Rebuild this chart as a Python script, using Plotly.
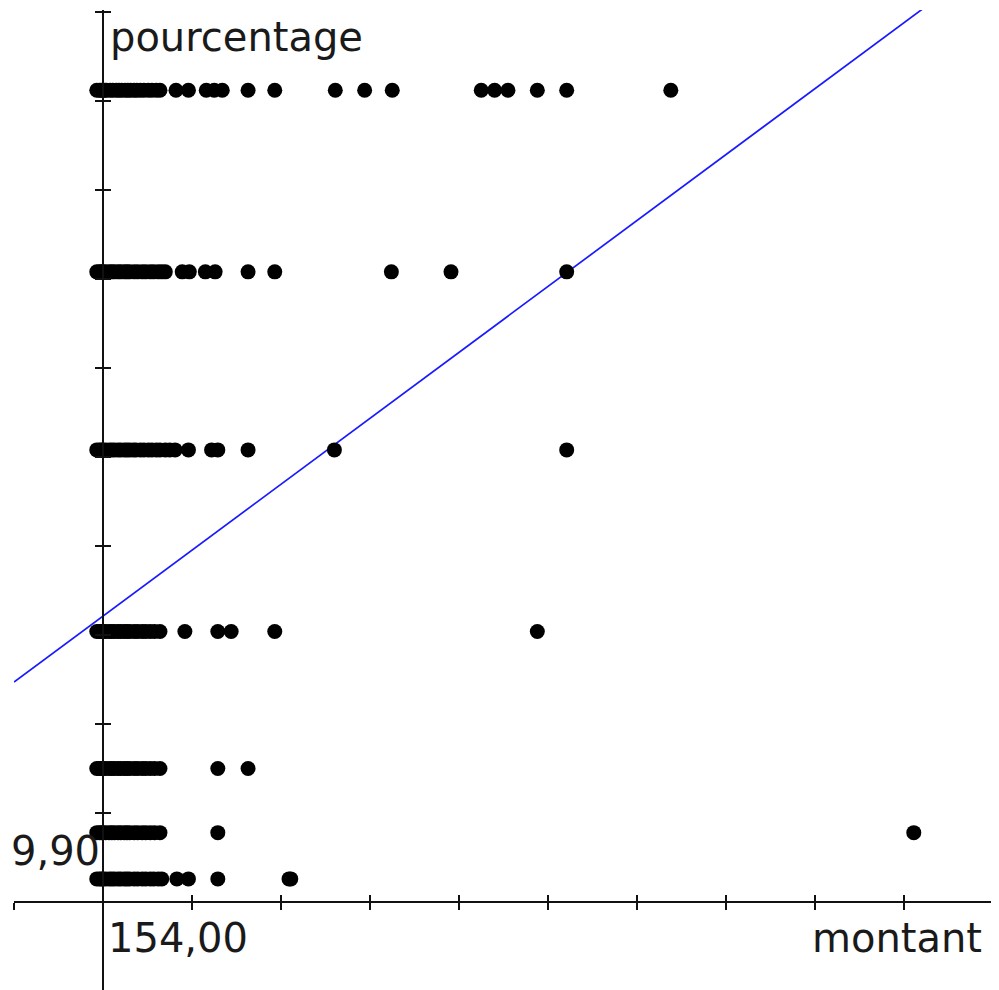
import plotly.graph_objects as go

# --- data (montant values per pourcentage level) ---
pct_levels = [14.46, 13.44, 12.44, 11.42, 10.65, 10.29, 10.03]

montant_1446 = [147, 150, 152, 154, 156, 158, 162, 165, 169, 172, 175, 179, 182, 185, 189, 192,
                196, 200, 205, 209, 214, 218, 236, 250, 270, 279, 288, 317, 347, 415, 448, 479,
                579, 594, 609, 642, 675, 792]
montant_1344 = [147, 150, 152, 154, 157, 161, 164, 167, 171, 174, 178, 181, 184, 189, 193, 198,
                202, 207, 211, 216, 220, 224, 243, 251, 269, 280, 317, 347, 478, 545, 675]
montant_1244 = [147, 150, 152, 154, 157, 161, 164, 167, 171, 174, 178, 181, 184, 188, 191, 196,
                200, 205, 209, 214, 218, 224, 229, 235, 250, 276, 283, 317, 414, 675]
montant_1142 = [147, 150, 152, 154, 157, 161, 164, 167, 171, 174, 178, 181, 184, 189, 193, 198,
                202, 207, 212, 218, 246, 283, 298, 347, 642]
montant_1065 = [147, 150, 152, 154, 157, 161, 164, 167, 171, 174, 178, 181, 184, 189, 193, 198,
                202, 207, 212, 218, 283, 317]
montant_1029 = [147, 150, 152, 154, 157, 161, 164, 167, 171, 174, 178, 181, 184, 189, 193, 198,
                202, 207, 212, 218, 283, 1065]
montant_1003 = [147, 150, 152, 154, 157, 161, 164, 167, 171, 174, 178, 181, 184, 189, 193, 198,
                202, 207, 211, 216, 220, 237, 250, 283, 363, 365]

rows = [montant_1446, montant_1344, montant_1244, montant_1142,
        montant_1065, montant_1029, montant_1003]

# regression line (two points)
reg_montant = [54, 1154]
reg_pourcentage = [11.136, 15.21]

# axis settings
x_origin = 154.0
y_origin = 9.90
x_step = 100
y_step = 0.5
x_range = [54.0, 1154.0]
y_range = [9.406, 14.911]

xs, ys = [], []
for lvl, row in zip(pct_levels, rows):
    xs.extend(row)
    ys.extend([lvl] * len(row))

fig = go.Figure()
fig.add_trace(go.Scatter(x=reg_montant, y=reg_pourcentage, mode="lines",
                         line=dict(color="#1a1aff", width=1.7), hoverinfo="skip"))
fig.add_trace(go.Scatter(x=xs, y=ys, mode="markers",
                         marker=dict(color="black", size=15, line=dict(width=0))))

OFF = 8  # page body margin
W, H = 999 - OFF, 990 - OFF
ml, mt = 14 - OFF, 10 - OFF
mr = W - (993 - OFF)
mb = H - (990 - OFF)
pw, ph = W - ml - mr, H - mt - mb
ax_px, ax_py = 103 - OFF, 902 - OFF
xpos = (H - mb - ax_py) / ph
ypos = (ax_px - ml) / pw

common = dict(showgrid=False, zeroline=False, showticklabels=False,
              ticklen=7, tickwidth=2, tickcolor="#111")
fig.update_layout(
    width=W, height=H,
    margin=dict(l=ml, r=mr, t=mt, b=mb),
    plot_bgcolor="white", paper_bgcolor="white",
    showlegend=False,
    xaxis=dict(range=x_range, anchor="free", position=xpos, showline=True,
               linecolor="#111", linewidth=2, ticks="outside",
               tick0=x_origin, dtick=x_step, **common),
    xaxis2=dict(range=x_range, overlaying="x", anchor="free", position=xpos,
                showline=False, ticks="inside", tick0=x_origin, dtick=x_step, **common),
    yaxis=dict(range=y_range, anchor="free", position=ypos, showline=True,
               linecolor="#111", linewidth=2, ticks="outside",
               tick0=y_origin, dtick=y_step, **common),
    yaxis2=dict(range=y_range, overlaying="y", anchor="free", position=ypos,
                showline=False, ticks="inside", tick0=y_origin, dtick=y_step, **common),
)
# invisible trace so the overlay axes render
fig.add_trace(go.Scatter(x=[x_origin], y=[y_origin], xaxis="x2", yaxis="y2",
                         mode="markers", marker=dict(opacity=0), hoverinfo="skip"))

def px2paper(px, py):
    return (px - OFF - ml) / pw, (H - mb - (py - OFF)) / ph

font = dict(family="DejaVu Sans", size=40, color="#1a1a1a")
for text, px, py, xa in [("pourcentage", 108, 37, "left"),
                         ("9,90", 102, 851, "right"),
                         ("154,00", 106, 938, "left"),
                         ("montant", 984, 938, "right")]:
    xp, yp = px2paper(px, py)
    fig.add_annotation(text=text, x=xp, y=yp, xref="paper", yref="paper",
                       xanchor=xa, yanchor="middle", showarrow=False, font=font)

fig.write_html("out.html")
